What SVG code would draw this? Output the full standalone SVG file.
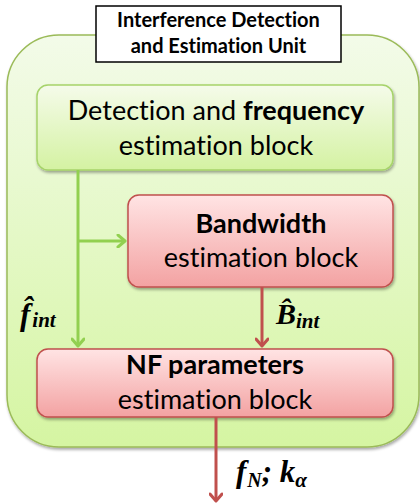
<svg xmlns="http://www.w3.org/2000/svg" width="420" height="504" viewBox="0 0 420 504">
<defs>
<linearGradient id="gOuter" x1="0" y1="0" x2="0" y2="1">
<stop offset="0" stop-color="#f3fbe9"/><stop offset="1" stop-color="#d5f5a2"/>
</linearGradient>
<linearGradient id="gGreen" x1="0" y1="0" x2="0" y2="1">
<stop offset="0" stop-color="#f5fbea"/><stop offset="1" stop-color="#d4f2a2"/>
</linearGradient>
<linearGradient id="gRed" x1="0" y1="0" x2="0" y2="1">
<stop offset="0" stop-color="#ffe4e4"/><stop offset="1" stop-color="#f3a2a2"/>
</linearGradient>
<filter id="sh" x="-10%" y="-10%" width="120%" height="120%">
<feGaussianBlur in="SourceAlpha" stdDeviation="1.5"/>
<feOffset dx="1" dy="2" result="b"/>
<feComponentTransfer><feFuncA type="linear" slope="0.35"/></feComponentTransfer>
<feMerge><feMergeNode/><feMergeNode in="SourceGraphic"/></feMerge>
</filter>
<marker id="arrG" markerWidth="14" markerHeight="14" refX="11" refY="7" orient="auto" markerUnits="userSpaceOnUse">
<path d="M4,1 L11,7 L4,13" fill="none" stroke="#92d050" stroke-width="3" stroke-linecap="round" stroke-linejoin="round"/>
</marker>
<marker id="arrR" markerWidth="14" markerHeight="14" refX="11" refY="7" orient="auto" markerUnits="userSpaceOnUse">
<path d="M4,1 L11,7 L4,13" fill="none" stroke="#c0504d" stroke-width="3" stroke-linecap="round" stroke-linejoin="round"/>
</marker>
</defs>
<style>
.txt{font-family:Lato,"Open Sans","Liberation Sans",sans-serif;fill:#000;text-anchor:middle;font-variant-ligatures:none;font-feature-settings:"liga" 0}
.big{font-size:27px}
.b{font-weight:bold}
.math{font-family:"Liberation Serif","DejaVu Serif",serif;font-weight:bold;font-style:italic;fill:#000}
.g{stroke:#92d050;stroke-width:3;fill:none}
.r{stroke:#c0504d;stroke-width:3;fill:none}
</style>
<g id="unit">
<rect x="7" y="35" width="412" height="412" rx="52" ry="52" fill="url(#gOuter)" stroke="#9bbb59" stroke-width="1.5" filter="url(#sh)"/>
</g>
<g id="title">
<rect x="96" y="6" width="245" height="56" fill="#fff" stroke="#000" stroke-width="1.5"/>
<text class="txt b" x="218.5" y="27" font-size="20">Interference Detection</text>
<text class="txt b" x="218.5" y="53" font-size="20">and Estimation Unit</text>
</g>
<g id="detection">
<rect x="37" y="85" width="356" height="85" rx="11" ry="11" fill="url(#gGreen)" stroke="#a6d36a" stroke-width="1.5" filter="url(#sh)"/>
<text class="txt big" x="216" y="120">Detection and <tspan class="b">frequency</tspan></text>
<text class="txt big" x="216" y="155">estimation block</text>
</g>
<g id="bandwidth">
<rect x="128" y="195" width="265" height="92" rx="11" ry="11" fill="url(#gRed)" stroke="#c0504d" stroke-width="1.5" filter="url(#sh)"/>
<text class="txt big b" x="261" y="233">Bandwidth</text>
<text class="txt big" x="261" y="267">estimation block</text>
</g>
<g id="nf">
<rect x="37" y="349" width="356" height="68" rx="11" ry="11" fill="url(#gRed)" stroke="#c0504d" stroke-width="1.5" filter="url(#sh)"/>
<text class="txt big b" x="215" y="374">NF parameters</text>
<text class="txt big" x="215" y="409">estimation block</text>
</g>
<g id="connectors">
<path class="g" d="M78,170 V346" marker-end="url(#arrG)"/>
<path class="g" d="M78,241 H125" marker-end="url(#arrG)"/>
<path class="r" d="M262,287 V346" marker-end="url(#arrR)"/>
<path class="r" d="M216,417 V501" marker-end="url(#arrR)"/>
</g>
<g id="labels">
<text class="math" x="20" y="325" font-size="31">f̂<tspan font-size="21" dy="2" dx="2">int</tspan></text>
<text class="math" x="276" y="324" font-size="30">B̂<tspan font-size="21" dy="4">int</tspan></text>
<text class="math" x="236" y="482" font-size="31">f<tspan font-size="20" dy="5" dx="1">N</tspan><tspan dy="-5">; k</tspan><tspan font-size="21" dy="5">α</tspan></text>
</g>
</svg>
